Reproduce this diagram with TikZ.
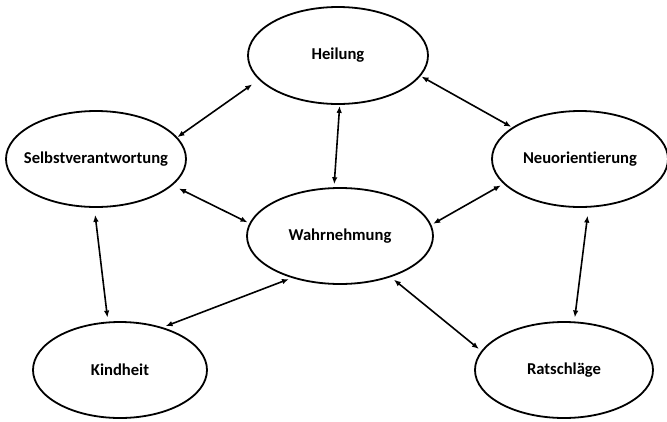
\documentclass[tikz,border=0pt]{standalone}
\usepackage{fontspec}
\setmainfont{Carlito}[Ligatures={NoCommon}]
\usetikzlibrary{shapes.geometric,arrows.meta}
\newcommand{\ovaltext}[1]{\makebox[0pt][c]{#1}}
\begin{document}
\begin{tikzpicture}[x=1pt,y=-1pt,
  oval/.style={ellipse,draw=black,line width=1.8pt,inner sep=0pt,
    font=\bfseries\fontsize{16.6}{19}\selectfont},
  link/.style={line width=1.6pt,{Latex[length=7pt,width=5.5pt]}-{Latex[length=7pt,width=5.5pt]}}]
\path[use as bounding box,fill=white] (0,0) rectangle (667,421);
\node[oval,minimum width=180pt,minimum height=97pt] (H) at (338,55.5) {\ovaltext{Heilung}};
\node[oval,minimum width=180pt,minimum height=96pt] (S) at (96,159) {\ovaltext{Selbstverantwortung}};
\node[oval,minimum width=176pt,minimum height=96pt] (N) at (580,159) {\ovaltext{Neuorientierung}};
\node[oval,minimum width=186pt,minimum height=96pt] (W) at (340,236) {\ovaltext{Wahrnehmung}};
\node[oval,minimum width=174pt,minimum height=96pt] (K) at (120,370) {\ovaltext{Kindheit}};
\node[oval,minimum width=178pt,minimum height=96pt] (R) at (564,370) {\ovaltext{Ratschläge}};
\draw[link,shorten >=8pt] (S.15) -- (H.197);
\draw[link,shorten <=1pt,shorten >=1pt] (H.346) -- (N.155);
\draw[link,shorten <=7pt,shorten >=2pt] (S.341) -- (W.172);
\draw[link,shorten <=2pt,shorten >=3pt] (W.7) -- (N.198);
\draw[link,shorten <=7pt,shorten >=4pt] (S.268) -- (K.104);
\draw[link,shorten <=8pt,shorten >=4pt] (N.280) -- (R.78);
\draw[link,shorten <=1pt,shorten >=3pt] (H.272) -- (W.97);
\draw[link,shorten <=3pt,shorten >=3pt] (K.45) -- (W.221);
\draw[link,shorten <=4pt,shorten >=3pt] (W.321) -- (R.167);
\end{tikzpicture}
\end{document}
